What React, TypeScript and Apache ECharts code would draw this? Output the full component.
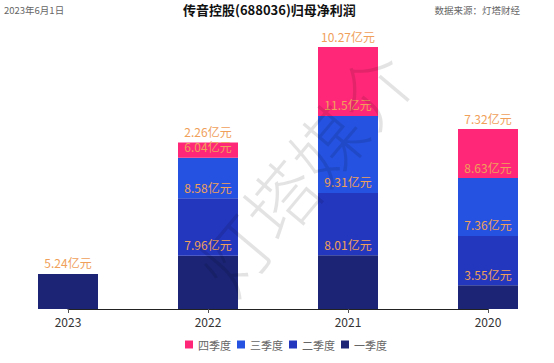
import React, { useEffect, useRef } from "react";
import * as echarts from "echarts";

const categories = ["2023", "2022", "2021", "2020"];
const q1 = [5.24, 7.96, 8.01, 3.55];
const q2 = [null, 8.58, 9.31, 7.36];
const q3 = [null, 6.04, 11.5, 8.63];
const q4 = [null, 2.26, 10.27, 7.32];
const seriesNames = ["一季度", "二季度", "三季度", "四季度"];
const legendOrder = ["四季度", "三季度", "二季度", "一季度"];
const colors = ["#1B2475", "#2336BE", "#2552E0", "#FF2878"];
const titleText = "传音控股(688036)归母净利润";
const dateText = "2023年6月1日";
const sourceText = "数据来源：灯塔财经";
const watermarkText = "灯塔媒介";

const FONT = '"Noto Sans CJK SC", "Noto Sans", sans-serif';

export default function App() {
  const ref = useRef<HTMLDivElement>(null);
  useEffect(() => {
    if (!ref.current) return;
    const chart = echarts.init(ref.current, undefined, { renderer: "svg" });
    const data = [q1, q2, q3, q4];
    chart.setOption({
      animation: false,
      textStyle: { fontFamily: FONT },
      grid: { left: 68, right: 66, top: 41, bottom: 54 },
      xAxis: {
        type: "category",
        data: categories,
        boundaryGap: false,
        axisLine: { lineStyle: { color: "#222", width: 1 } },
        axisTick: { length: 4, lineStyle: { color: "#555" } },
        axisLabel: { color: "#333", fontSize: 12, margin: 6 },
      },
      yAxis: {
        type: "value",
        show: false,
        min: 0,
        max: 40,
      },
      legend: {
        data: legendOrder,
        bottom: 8,
        left: 180,
        itemWidth: 8,
        itemHeight: 8,
        itemGap: 6,
        icon: "rect",
        textStyle: { color: "#666", fontSize: 11, fontFamily: FONT },
      },
      graphic: [
        {
          type: "text",
          left: 4,
          top: 5,
          style: { text: dateText, fill: "#666", fontSize: 9.5, fontFamily: FONT },
        },
        {
          type: "text",
          left: 183,
          top: 3,
          style: {
            text: titleText,
            fill: "#111",
            fontSize: 13,
            fontWeight: "bold",
            fontFamily: FONT,
          },
        },
        {
          type: "text",
          right: 34,
          top: 5,
          style: { text: sourceText, fill: "#666", fontSize: 9.5, fontFamily: FONT },
        },
        {
          type: "text",
          x: 302,
          y: 170,
          rotation: (50 * Math.PI) / 180,
          z: 100,
          silent: true,
          style: {
            text: watermarkText,
            fill: "rgba(0,0,0,0.11)",
            fontSize: 72,
            fontWeight: 300,
            align: "center",
            verticalAlign: "middle",
            fontFamily: FONT,
          },
        },
      ],
      series: seriesNames.map((name, i) => ({
        name,
        type: "bar",
        stack: "total",
        barWidth: 60,
        data: data[i],
        itemStyle: { color: colors[i] },
        label: {
          show: true,
          position: "top",
          color: "#F0A05A",
          fontSize: 12,
          fontFamily: FONT,
          formatter: (p: any) => (p.value == null ? "" : `${p.value}亿元`),
        },
      })),
    });
    return () => chart.dispose();
  }, []);
  return (
    <div
      ref={ref}
      style={{ position: "absolute", left: 0, top: 0, width: 554, height: 363 }}
    />
  );
}
